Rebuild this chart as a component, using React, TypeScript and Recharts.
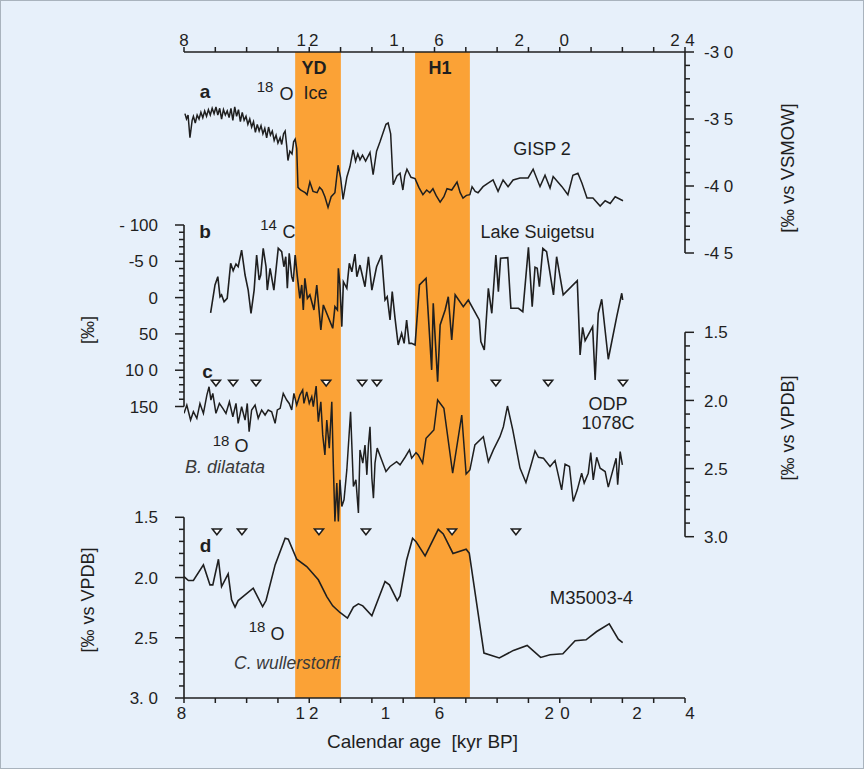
import React from 'react';
import { ComposedChart, LineChart, Line, Scatter, Area, XAxis, YAxis } from 'recharts';

// ---------------- data ----------------
const xTickAges = [8, 9, 10, 11, 12, 13, 14, 15, 16, 17, 18, 19, 20, 21, 22, 23, 24];
const xMajorAges = [8, 12, 16, 20, 24];
const xTickLabels = ['8', '12', '16', '20', '24'];

const ydBand = [11.55, 13.01];
const h1Band = [15.38, 17.13];

// (a) GISP 2 ice d18O [permil vs VSMOW]
const gispAge = [8.03, 8.08, 8.13, 8.19, 8.26, 8.3, 8.36, 8.42, 8.48, 8.54, 8.6, 8.66, 8.72, 8.78, 8.84, 8.9, 8.96, 9.02, 9.08, 9.14, 9.2, 9.26, 9.32, 9.38, 9.44, 9.5, 9.56, 9.62, 9.68, 9.74, 9.8, 9.86, 9.92, 9.98, 10.04, 10.1, 10.16, 10.22, 10.28, 10.34, 10.4, 10.46, 10.52, 10.58, 10.64, 10.7, 10.76, 10.82, 10.88, 10.94, 11.0, 11.07, 11.12, 11.18, 11.23, 11.28, 11.32, 11.38, 11.45, 11.5, 11.55, 11.6, 11.64, 11.72, 11.8, 11.87, 11.93, 12.02, 12.12, 12.25, 12.33, 12.41, 12.5, 12.6, 12.7, 12.82, 12.92, 13.0, 13.08, 13.2, 13.3, 13.4, 13.48, 13.55, 13.62, 13.7, 13.8, 13.94, 14.04, 14.15, 14.26, 14.36, 14.45, 14.52, 14.6, 14.68, 14.8, 14.9, 14.99, 15.05, 15.12, 15.25, 15.38, 15.5, 15.63, 15.75, 15.85, 15.95, 16.05, 16.18, 16.3, 16.4, 16.55, 16.72, 16.82, 16.91, 17.02, 17.13, 17.2, 17.3, 17.39, 17.55, 17.7, 17.87, 18.03, 18.19, 18.35, 18.51, 18.73, 18.99, 19.15, 19.37, 19.53, 19.69, 19.79, 20.07, 20.26, 20.42, 20.58, 20.71, 20.87, 21.06, 21.29, 21.45, 21.61, 21.77, 22.02];
const gispD18O = [-34.6, -35.0, -34.7, -36.4, -35.1, -34.8, -35.3, -34.7, -35.0, -34.5, -34.9, -34.4, -34.8, -34.3, -34.7, -34.2, -34.6, -34.1, -34.7, -34.2, -35.0, -34.3, -34.7, -34.4, -34.9, -34.2, -35.1, -34.1, -34.8, -34.3, -35.2, -34.5, -35.1, -34.8, -35.4, -35.0, -35.6, -35.2, -36.0, -35.4, -35.9, -35.5, -36.1, -35.7, -36.4, -35.6, -36.2, -35.9, -36.6, -36.2, -36.8, -36.4, -36.9, -36.1, -35.9, -37.0, -38.1, -37.4, -37.6, -36.7, -36.5, -37.2, -40.1, -40.3, -40.4, -40.5, -40.65, -39.7, -40.4, -40.5, -40.1, -40.3, -40.8, -41.6, -40.8, -40.5, -38.45, -39.35, -41.0, -39.35, -38.55, -37.3, -38.15, -37.6, -38.05, -37.7, -38.15, -37.5, -39.15, -37.4, -36.7, -36.0, -35.4, -35.3, -36.1, -39.9, -39.25, -39.05, -40.3, -39.25, -38.75, -39.35, -39.45, -40.1, -40.65, -40.3, -40.5, -40.2, -40.7, -41.2, -40.8, -40.2, -40.3, -39.7, -40.5, -40.9, -40.7, -40.65, -40.05, -40.4, -40.5, -40.05, -39.8, -39.55, -40.4, -39.55, -40.05, -39.55, -39.4, -39.4, -38.75, -40.05, -39.2, -40.15, -39.3, -40.05, -40.65, -39.2, -39.05, -39.8, -40.9, -40.9, -41.5, -41.1, -41.3, -40.8, -41.1];

// (b) Lake Suigetsu D14C [permil]
const suigAge = [8.85, 8.99, 9.08, 9.15, 9.2, 9.28, 9.38, 9.49, 9.57, 9.66, 9.73, 9.84, 9.95, 10.05, 10.14, 10.24, 10.32, 10.4, 10.45, 10.53, 10.62, 10.66, 10.75, 10.87, 11.01, 11.12, 11.19, 11.25, 11.3, 11.36, 11.44, 11.49, 11.55, 11.62, 11.7, 11.76, 11.81, 11.86, 11.94, 12.02, 12.15, 12.24, 12.37, 12.45, 12.58, 12.75, 12.82, 12.9, 12.93, 12.98, 13.04, 13.09, 13.2, 13.28, 13.36, 13.46, 13.52, 13.62, 13.68, 13.78, 13.89, 14.0, 14.15, 14.31, 14.42, 14.49, 14.58, 14.65, 14.74, 14.84, 14.95, 15.03, 15.11, 15.19, 15.27, 15.38, 15.52, 15.73, 15.91, 15.96, 16.1, 16.18, 16.34, 16.44, 16.55, 16.66, 16.92, 17.08, 17.43, 17.48, 17.59, 17.72, 17.83, 17.96, 18.04, 18.11, 18.34, 18.44, 18.68, 18.82, 19.0, 19.12, 19.21, 19.28, 19.35, 19.46, 19.58, 19.8, 19.9, 20.11, 20.56, 20.65, 20.73, 20.81, 21.05, 21.13, 21.23, 21.34, 21.55, 21.82, 21.98, 22.01];
const suigD14C = [21, -17.4, -28.8, -1.2, -3.7, 5.6, 1.0, -47.2, -37, -46.2, -42.5, -65.4, -31.1, -10.4, 21.6, -10.4, -58.6, -24.3, -31.1, -67.9, -42.5, -10.4, -40.3, -10.4, -67.9, -63.2, -42.5, -56.3, -12.8, -61, -28.8, -21.9, -58.6, -28.8, 1.0, -17.4, 17.1, -26.6, 1.0, -3.7, 17.1, -17.4, 44.6, 10.1, 24, 42.3, 12.5, 17.1, -40.3, -17.4, 40, -21.9, -12.8, -47.2, -35.6, -60, -28.8, -44.8, -33.5, -15, -56.3, -10.4, -42.5, -58.6, 3.3, -1.2, 30.8, -8.2, 28.6, 65.2, 49.1, 63, 30.8, 63, 63, 65.2, -17.4, -26.6, 99.6, 7.9, 115.8, 37.7, 17.1, -1.2, 58.4, -3.7, 12.5, 3.3, 30.8, 60.7, 72.1, -12.8, 21.6, -58.6, -8.2, -54.1, -55, 14.7, 14.7, 19.4, -69.2, 12.5, -41.7, -40.3, -15, -67.9, -63.2, -3.7, -56.3, -3.7, -23.3, 79, 41, 59.3, 40, 113.4, 21.6, 2.3, 84.9, 26.3, -6, 3.3];

// (c) ODP 1078C B. dilatata d18O [permil vs VPDB]
const odpAge = [8.0, 8.09, 8.21, 8.3, 8.41, 8.51, 8.62, 8.73, 8.8, 8.86, 8.92, 9.02, 9.13, 9.24, 9.34, 9.45, 9.56, 9.66, 9.73, 9.84, 9.95, 10.02, 10.08, 10.16, 10.27, 10.37, 10.48, 10.59, 10.69, 10.8, 10.91, 10.98, 11.07, 11.17, 11.28, 11.36, 11.44, 11.51, 11.6, 11.7, 11.79, 11.83, 11.92, 12.0, 12.08, 12.13, 12.22, 12.29, 12.37, 12.43, 12.5, 12.56, 12.64, 12.72, 12.77, 12.82, 12.88, 12.93, 12.98, 13.04, 13.11, 13.2, 13.32, 13.41, 13.49, 13.57, 13.62, 13.71, 13.78, 13.84, 13.89, 13.94, 14.0, 14.05, 14.1, 14.17, 14.31, 14.45, 14.58, 14.79, 14.9, 15.06, 15.2, 15.27, 15.41, 15.48, 15.62, 15.73, 15.83, 15.98, 16.1, 16.3, 16.58, 16.87, 17.01, 17.13, 17.29, 17.56, 17.72, 17.88, 18.09, 18.2, 18.33, 18.5, 18.73, 18.92, 19.07, 19.21, 19.32, 19.48, 19.69, 19.85, 20.06, 20.17, 20.31, 20.43, 20.56, 20.7, 20.78, 20.91, 20.99, 21.07, 21.18, 21.29, 21.45, 21.55, 21.8, 21.85, 21.93, 22.0];
const odpD18O = [2.095, 2.034, 2.144, 2.083, 2.131, 2.022, 2.095, 1.961, 1.9, 1.997, 1.948, 2.095, 2.022, 2.058, 2.095, 2.01, 2.12, 2.022, 2.168, 2.046, 2.144, 2.022, 2.229, 2.07, 2.034, 2.131, 2.07, 2.107, 2.07, 2.083, 2.168, 2.07, 2.058, 1.948, 1.997, 2.022, 2.07, 1.948, 2.034, 1.961, 1.924, 2.022, 1.937, 2.022, 1.973, 2.046, 1.895, 2.156, 2.01, 2.253, 2.4, 2.144, 2.35, 2.01, 2.485, 2.888, 2.607, 2.888, 2.583, 2.778, 2.729, 2.51, 2.083, 2.631, 2.583, 2.826, 2.363, 2.46, 2.327, 2.546, 2.327, 2.193, 2.571, 2.717, 2.46, 2.35, 2.436, 2.522, 2.485, 2.449, 2.473, 2.417, 2.363, 2.424, 2.383, 2.4, 2.46, 2.278, 2.253, 2.217, 1.997, 2.058, 2.534, 2.107, 2.54, 2.51, 2.327, 2.266, 2.449, 2.363, 2.266, 2.193, 2.041, 2.217, 2.497, 2.602, 2.485, 2.371, 2.417, 2.424, 2.485, 2.441, 2.656, 2.468, 2.485, 2.741, 2.656, 2.534, 2.607, 2.534, 2.383, 2.583, 2.417, 2.497, 2.522, 2.636, 2.424, 2.619, 2.376, 2.473];
const odpTieAges = [9.02, 9.57, 10.3, 12.54, 13.69, 14.16, 17.96, 19.63, 22.02];
const odpTieLevel = 1.872;

// (d) M35003-4 C. wullerstorfi d18O [permil vs VPDB]
const mAge = [8.0, 8.14, 8.3, 8.62, 8.83, 8.92, 9.1, 9.2, 9.41, 9.52, 9.63, 9.73, 10.21, 10.51, 10.62, 10.91, 11.23, 11.33, 11.6, 11.92, 12.29, 12.56, 12.75, 12.98, 13.22, 13.41, 13.57, 13.71, 14.0, 14.42, 14.56, 14.81, 14.9, 15.11, 15.3, 15.41, 15.7, 16.12, 16.28, 16.59, 17.01, 17.11, 17.58, 18.07, 18.52, 18.96, 19.39, 19.69, 20.1, 20.49, 20.84, 21.18, 21.58, 21.87, 22.01];
const mD18O = [1.992, 2.025, 2.025, 1.895, 2.061, 2.061, 1.848, 2.075, 1.97, 2.185, 2.246, 2.191, 2.088, 2.241, 2.191, 1.895, 1.674, 1.682, 1.848, 1.909, 2.019, 2.158, 2.235, 2.29, 2.337, 2.246, 2.218, 2.235, 2.318, 2.033, 2.061, 2.191, 2.152, 1.854, 1.674, 1.702, 1.821, 1.6, 1.638, 1.8, 1.765, 1.798, 2.627, 2.668, 2.605, 2.564, 2.663, 2.641, 2.633, 2.525, 2.517, 2.448, 2.384, 2.511, 2.54];
const mTieAges = [9.05, 9.85, 12.31, 13.81, 16.56, 18.6];
const mTieLevel = 1.62;

// y-axis ticks and labels
const aTicks = [-45, -44, -43, -42, -41, -40, -39, -38, -37, -36, -35, -34, -33, -32, -31, -30];
const aLabelValues = [-30, -35, -40, -45];
const aLabels = ['-3 0', '-3 5', '-4 0', '-4 5'];
const bTicks = [-100, -90, -80, -70, -60, -50, -40, -30, -20, -10, 0, 10, 20, 30, 40, 50, 60, 70, 80, 90, 100, 110, 120, 130, 140, 150];
const bLabelValues = [-100, -50, 0, 50, 100, 150];
const bLabels = ['- 100', '-5 0', '0', '50', '10 0', '150'];
const cdTicks = [1.5, 1.6, 1.7, 1.8, 1.9, 2.0, 2.1, 2.2, 2.3, 2.4, 2.5, 2.6, 2.7, 2.8, 2.9, 3.0];
const cdLabelValues = [1.5, 2.0, 2.5, 3.0];
const cLabels = ['1.5', '2.0', '2.5', '3.0'];
const dLabels = ['1.5', '2.0', '2.5', '3. 0'];

// rows built from the arrays
const gispRows = gispAge.map((age, i) => ({ age, v: gispD18O[i] }));
const suigRows = suigAge.map((age, i) => ({ age, v: suigD14C[i] }));
const odpRows = odpAge.map((age, i) => ({ age, v: odpD18O[i] }));
const odpTieRows = odpTieAges.map((age) => ({ age, v: odpTieLevel }));
const mRows = mAge.map((age, i) => ({ age, v: mD18O[i] }));
const mTieRows = mTieAges.map((age) => ({ age, v: mTieLevel }));
const ydRows = ydBand.map((age) => ({ age, v: 1 }));
const h1Rows = h1Band.map((age) => ({ age, v: 1 }));

// ---------------- styles ----------------
const W = 864;
const H = 769;
const X0 = 184;
const X1 = 685;
const FONT = '"Liberation Sans", Arial, Helvetica, sans-serif';
const INK = '#1f1f1f';
const BG = '#e7f0fa';
const ORANGE = '#fba236';
const AXW = 60;
const abs: React.CSSProperties = { position: 'absolute', left: 0, top: 0 };
const axisLineStyle = { stroke: INK, strokeWidth: 1.6 };

const TOP_OFFS = [[0], [-8, 4.5], [-40.5, 4.5], [-40.5, 4.5], [-10, 5]];
const BOT_OFFS = [[-2.5], [-9, 4.5], [-49, 5], [-10.5, 5.3], [-48, 5]];

const XTick = (props: any) => {
  const { x, y, payload, top } = props;
  const v = payload.value;
  const idx = xMajorAges.indexOf(v);
  const dir = top ? -1 : 1;
  const pieces: React.ReactNode[] = [];
  if (idx >= 0) {
    const label = xTickLabels[idx];
    const offs = (top ? TOP_OFFS : BOT_OFFS)[idx];
    const ty = top ? y - 12.5 : y + 15;
    label.split('').forEach((ch, i) => {
      pieces.push(
        <text key={i} x={x + offs[i]} y={ty} dy="0.36em" textAnchor="middle" fontFamily={FONT} fontSize={17} fill={INK}>
          {ch}
        </text>
      );
    });
  }
  return (
    <g>
      <line x1={x} x2={x} y1={y} y2={y + dir * 5} stroke={INK} strokeWidth={1.5} />
      {pieces}
    </g>
  );
};

const YTick = (props: any) => {
  const { x, y, payload, side, values, labels } = props;
  const v = payload.value;
  const idx = values.findIndex((u: number) => Math.abs(u - v) < 1e-6);
  const dir = side === 'left' ? -1 : 1;
  const len = idx >= 0 ? 9 : 5;
  return (
    <g>
      <line x1={x} x2={x + dir * len} y1={y} y2={y} stroke={INK} strokeWidth={1.5} />
      {idx >= 0 && (
        <text
          x={side === 'left' ? x - 26 : x + 19}
          y={y}
          dy="0.36em"
          textAnchor={side === 'left' ? 'end' : 'start'}
          fontFamily={FONT}
          fontSize={17}
          fill={INK}
        >
          {labels[idx]}
        </text>
      )}
    </g>
  );
};

const Tri = (p: any) => {
  const { cx, cy } = p;
  if (cx == null || cy == null) return <g />;
  return (
    <path
      d={`M${cx - 4.5},${cy - 2.8} L${cx + 4.5},${cy - 2.8} L${cx},${cy + 3} Z`}
      fill="#ffffff"
      stroke={INK}
      strokeWidth={1.6}
      strokeLinejoin="miter"
    />
  );
};

const hiddenX = <XAxis dataKey="age" type="number" domain={[8, 24]} hide allowDataOverflow />;

const T = (p: any) => <text fontFamily={FONT} fill={INK} {...p} />;

export default function App() {
  return (
    <div style={{ position: 'absolute', left: 0, top: 0, width: W, height: H, background: BG, overflow: 'hidden' }}>
      {/* base: bands and shared age axes */}
      <div style={abs}>
        <ComposedChart width={W} height={H} margin={{ top: 22, bottom: H - 698 - 30, left: X0, right: W - X1 }}>
          <XAxis
            xAxisId="top"
            orientation="top"
            dataKey="age"
            type="number"
            domain={[8, 24]}
            ticks={xTickAges}
            interval={0}
            height={30}
            tickSize={0}
            tickMargin={0}
            tickLine={false}
            axisLine={axisLineStyle}
            tick={(p: any) => <XTick {...p} top />}
            allowDataOverflow
          />
          <XAxis
            xAxisId="bottom"
            orientation="bottom"
            dataKey="age"
            type="number"
            domain={[8, 24]}
            ticks={xTickAges}
            interval={0}
            height={30}
            tickSize={0}
            tickMargin={0}
            tickLine={false}
            axisLine={axisLineStyle}
            tick={(p: any) => <XTick {...p} />}
            allowDataOverflow
          />
          <YAxis yAxisId="band" hide type="number" domain={[0, 1]} allowDataOverflow />
          <Area data={ydRows} xAxisId="bottom" yAxisId="band" type="linear" dataKey="v" baseValue={0} fill={ORANGE} fillOpacity={1} stroke="none" dot={false} activeDot={false} isAnimationActive={false} />
          <Area data={h1Rows} xAxisId="bottom" yAxisId="band" type="linear" dataKey="v" baseValue={0} fill={ORANGE} fillOpacity={1} stroke="none" dot={false} activeDot={false} isAnimationActive={false} />
        </ComposedChart>
      </div>

      {/* (a) GISP 2 */}
      <div style={abs}>
        <LineChart width={W} height={H} data={gispRows} margin={{ top: 52, bottom: H - 253, left: X0, right: W - X1 - AXW }}>
          {hiddenX}
          <YAxis
            orientation="right"
            width={AXW}
            type="number"
            domain={[-45, -30]}
            ticks={aTicks}
            interval={0}
            tickSize={0}
            tickMargin={0}
            tickLine={false}
            axisLine={axisLineStyle}
            tick={(p: any) => <YTick {...p} side="right" values={aLabelValues} labels={aLabels} />}
            allowDataOverflow
          />
          <Line type="linear" dataKey="v" stroke={INK} strokeWidth={1.5} dot={false} isAnimationActive={false} />
        </LineChart>
      </div>

      {/* (b) Lake Suigetsu */}
      <div style={abs}>
        <LineChart width={W} height={H} data={suigRows} margin={{ top: 225, bottom: H - 406.5, left: X0 - AXW, right: W - X1 }}>
          {hiddenX}
          <YAxis
            orientation="left"
            width={AXW}
            type="number"
            reversed
            domain={[-100, 150]}
            ticks={bTicks}
            interval={0}
            tickSize={0}
            tickMargin={0}
            tickLine={false}
            axisLine={axisLineStyle}
            tick={(p: any) => <YTick {...p} side="left" values={bLabelValues} labels={bLabels} />}
            allowDataOverflow
          />
          <Line type="linear" dataKey="v" stroke={INK} strokeWidth={1.6} dot={false} isAnimationActive={false} />
        </LineChart>
      </div>

      {/* (c) ODP 1078C */}
      <div style={abs}>
        <ComposedChart width={W} height={H} margin={{ top: 332.3, bottom: H - 536.7, left: X0, right: W - X1 - AXW }}>
          {hiddenX}
          <YAxis
            orientation="right"
            width={AXW}
            type="number"
            reversed
            domain={[1.5, 3.0]}
            ticks={cdTicks}
            interval={0}
            tickSize={0}
            tickMargin={0}
            tickLine={false}
            axisLine={axisLineStyle}
            tick={(p: any) => <YTick {...p} side="right" values={cdLabelValues} labels={cLabels} />}
            allowDataOverflow
          />
          <Line data={odpRows} type="linear" dataKey="v" stroke={INK} strokeWidth={1.5} dot={false} isAnimationActive={false} />
          <Scatter data={odpTieRows} dataKey="v" shape={Tri} isAnimationActive={false} />
        </ComposedChart>
      </div>

      {/* (d) M35003-4 */}
      <div style={abs}>
        <ComposedChart width={W} height={H} margin={{ top: 517.3, bottom: H - 698, left: X0 - AXW, right: W - X1 }}>
          {hiddenX}
          <YAxis
            orientation="left"
            width={AXW}
            type="number"
            reversed
            domain={[1.5, 3.0]}
            ticks={cdTicks}
            interval={0}
            tickSize={0}
            tickMargin={0}
            tickLine={false}
            axisLine={axisLineStyle}
            tick={(p: any) => <YTick {...p} side="left" values={cdLabelValues} labels={dLabels} />}
            allowDataOverflow
          />
          <Line data={mRows} type="linear" dataKey="v" stroke={INK} strokeWidth={1.6} dot={false} isAnimationActive={false} />
          <Scatter data={mTieRows} dataKey="v" shape={Tri} isAnimationActive={false} />
        </ComposedChart>
      </div>

      {/* annotations */}
      <svg width={W} height={H} style={{ ...abs, pointerEvents: 'none' }}>
        <rect x={0.5} y={0.5} width={W - 1} height={H - 1} fill="none" stroke="#a9b3bd" strokeWidth={1} />
        <T x={314} y={74} textAnchor="middle" fontSize={18} fontWeight="bold">YD</T>
        <T x={440} y={74} textAnchor="middle" fontSize={18} fontWeight="bold">H1</T>

        <T x={205} y={98} textAnchor="middle" fontSize={19} fontWeight="bold">a</T>
        <T x={265} y={92} textAnchor="middle" fontSize={15}>18</T>
        <T x={286.5} y={100} textAnchor="middle" fontSize={18}>O</T>
        <T x={315.5} y={99} textAnchor="middle" fontSize={18}>Ice</T>
        <T x={542} y={155} textAnchor="middle" fontSize={18}>GISP 2</T>

        <T x={205} y={238} textAnchor="middle" fontSize={19} fontWeight="bold">b</T>
        <T x={268.5} y={230} textAnchor="middle" fontSize={15}>14</T>
        <T x={289} y={238} textAnchor="middle" fontSize={18}>C</T>
        <T x={537.5} y={238} textAnchor="middle" fontSize={18}>Lake Suigetsu</T>

        <T x={207.5} y={378} textAnchor="middle" fontSize={19} fontWeight="bold">c</T>
        <T x={221} y={446} textAnchor="middle" fontSize={15}>18</T>
        <T x={241.5} y={452} textAnchor="middle" fontSize={18}>O</T>
        <T x={185} y={473} fontSize={18} fontStyle="italic" fill="#3a3a3a">B. dilatata</T>
        <T x={608} y={410} textAnchor="middle" fontSize={18}>ODP</T>
        <T x={608} y={429} textAnchor="middle" fontSize={18}>1078C</T>

        <T x={205.5} y={552} textAnchor="middle" fontSize={19} fontWeight="bold">d</T>
        <T x={257} y={632} textAnchor="middle" fontSize={15}>18</T>
        <T x={277.5} y={640} textAnchor="middle" fontSize={18}>O</T>
        <T x={234} y={669} fontSize={17.5} fontStyle="italic" fill="#3a3a3a">C. wullerstorfi</T>
        <T x={591.5} y={604} textAnchor="middle" fontSize={18.5}>M35003-4</T>

        <T x={422.5} y={748} textAnchor="middle" fontSize={19} style={{ whiteSpace: 'pre' }}>{'Calendar age  [kyr BP]'}</T>

        <T x={787} y={168} textAnchor="middle" dominantBaseline="central" fontSize={18.5} transform="rotate(-90 787 168)">[‰ vs VSMOW]</T>
        <T x={788} y={428} textAnchor="middle" dominantBaseline="central" fontSize={18} transform="rotate(-90 788 428)">[‰ vs VPDB]</T>
        <T x={88} y={330} textAnchor="middle" dominantBaseline="central" fontSize={18} transform="rotate(-90 88 330)">[‰]</T>
        <T x={88} y={600} textAnchor="middle" dominantBaseline="central" fontSize={18} transform="rotate(-90 88 600)">[‰ vs VPDB]</T>
      </svg>
    </div>
  );
}
